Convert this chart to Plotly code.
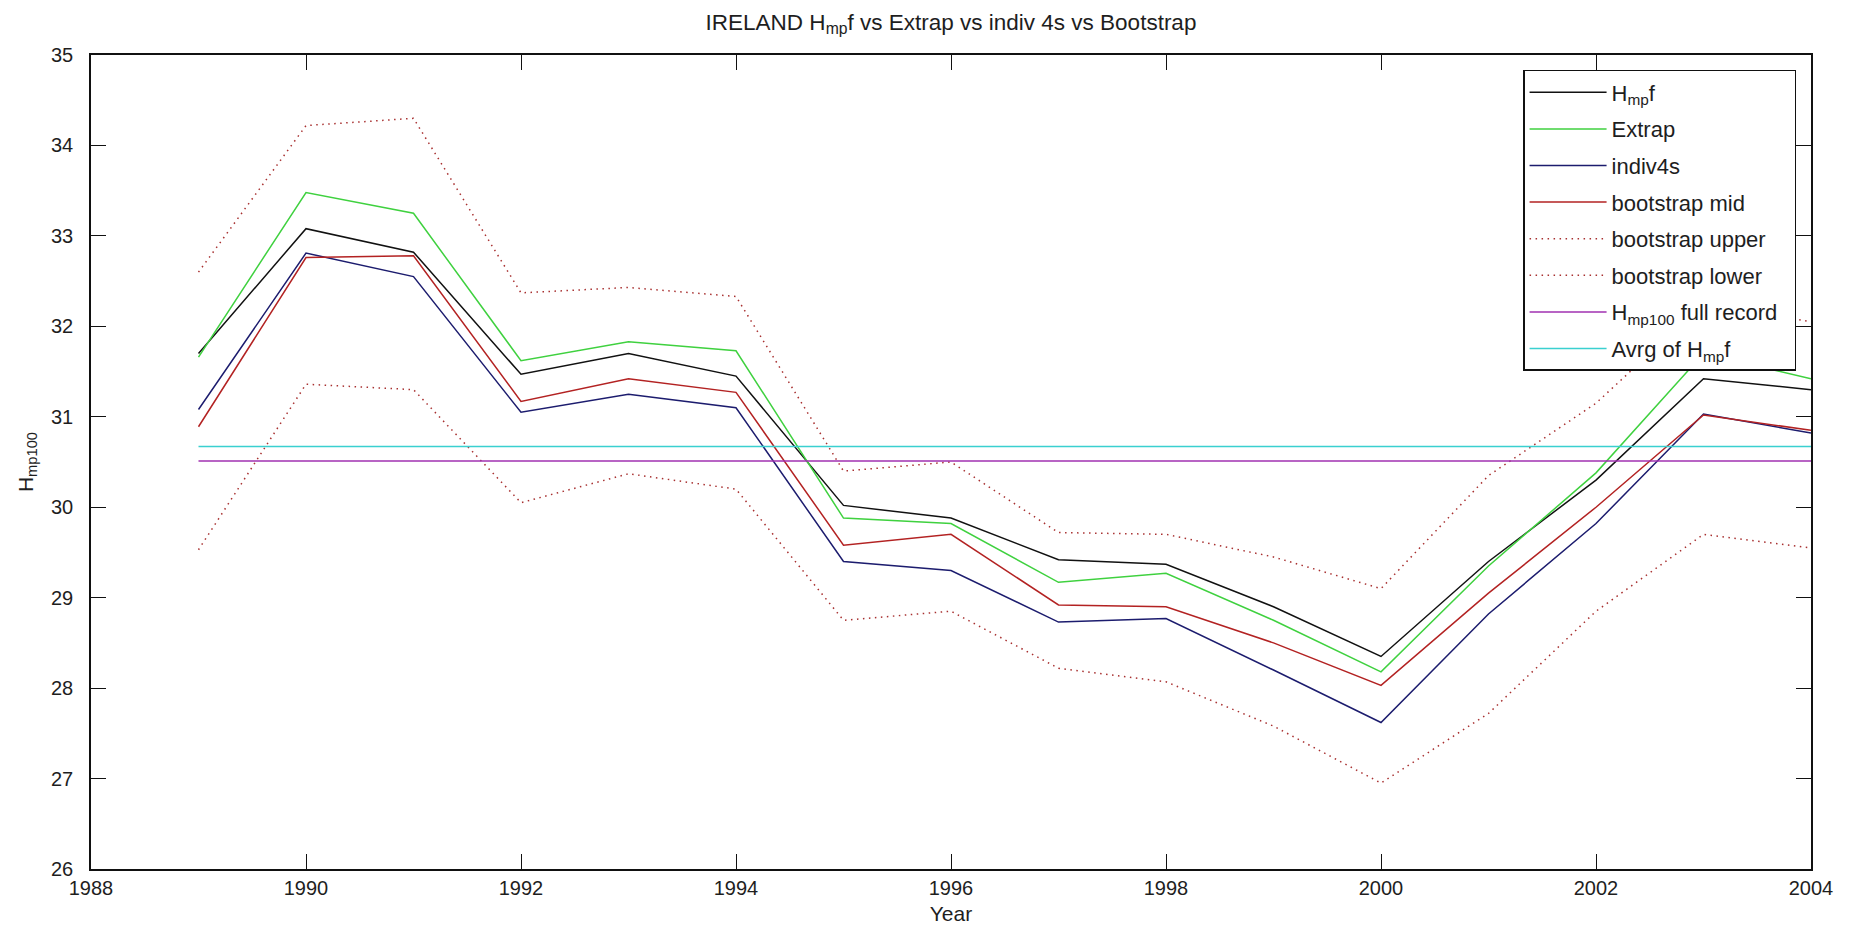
import plotly.graph_objects as go

years = [1989, 1990, 1991, 1992, 1993, 1994, 1995, 1996, 1997, 1998, 1999, 2000, 2001, 2002, 2003, 2004]

hmpf = [31.70, 33.08, 32.82, 31.47, 31.70, 31.45, 30.02, 29.88, 29.42, 29.37, 28.90, 28.35, 29.40, 30.30, 31.42, 31.30]
extrap = [31.66, 33.48, 33.25, 31.62, 31.83, 31.73, 29.88, 29.82, 29.17, 29.27, 28.75, 28.18, 29.35, 30.38, 31.70, 31.42]
indiv4s = [31.08, 32.81, 32.55, 31.05, 31.25, 31.10, 29.40, 29.30, 28.73, 28.77, 28.20, 27.62, 28.82, 29.82, 31.03, 30.82]
boot_mid = [30.89, 32.76, 32.78, 31.17, 31.42, 31.27, 29.58, 29.70, 28.92, 28.90, 28.50, 28.03, 29.05, 30.00, 31.02, 30.85]
boot_upper = [32.60, 34.22, 34.30, 32.37, 32.43, 32.33, 30.40, 30.50, 29.72, 29.70, 29.45, 29.10, 30.35, 31.15, 32.25, 32.05]
boot_lower = [29.53, 31.36, 31.30, 30.05, 30.37, 30.20, 28.75, 28.85, 28.22, 28.07, 27.58, 26.95, 27.72, 28.85, 29.70, 29.55]
hmp100_full = 30.51
avg_hmpf = 30.67

series_names = ["H<sub>mp</sub>f", "Extrap", "indiv4s", "bootstrap mid", "bootstrap upper",
                "bootstrap lower", "H<sub>mp100</sub> full record&nbsp;&nbsp;", "Avrg of H<sub>mp</sub>f"]

x_ticks = [1988, 1990, 1992, 1994, 1996, 1998, 2000, 2002, 2004]
y_ticks = [26, 27, 28, 29, 30, 31, 32, 33, 34, 35]

FONT = "Liberation Sans, Arial, sans-serif"
TXT = "#1e1e1e"

specs = [
    (hmpf, "#111111", "solid", 1.5),
    (extrap, "#3fd13f", "solid", 1.5),
    (indiv4s, "#1c1c6e", "solid", 1.5),
    (boot_mid, "#b32222", "solid", 1.5),
    (boot_upper, "#a83030", "1.5px,4.5px", 1.5),
    (boot_lower, "#a83030", "1.5px,4.5px", 1.5),
    ([hmp100_full] * len(years), "#a030b0", "solid", 1.5),
    ([avg_hmpf] * len(years), "#3ad0d0", "solid", 1.5),
]

fig = go.Figure()
for i, (vals, color, dash, w) in enumerate(specs):
    fig.add_trace(go.Scatter(
        x=years, y=vals, mode="lines", name=series_names[i],
        legendgroup=f"g{i}",
        line=dict(color=color, dash=dash, width=w),
    ))

# page body has an 8px default margin; size the figure so the plot area
# lands at x 91..1811, y 55..869 of the window
fig.update_layout(
    width=1833, height=917,
    paper_bgcolor="white", plot_bgcolor="white",
    margin=dict(l=83, r=30, t=47, b=56, autoexpand=False),
    font=dict(family=FONT, size=20, color=TXT),
    title=dict(text="IRELAND H<sub>mp</sub>f vs Extrap vs indiv 4s vs Bootstrap",
               x=0.5, xref="paper", xanchor="center", y=0.985, yanchor="middle",
               font=dict(family=FONT, size=22.5, color=TXT)),
    showlegend=True,
    legend=dict(
        x=0.8326, y=0.9816, xanchor="left", yanchor="top",
        bgcolor="white", bordercolor="#111111", borderwidth=1.5,
        font=dict(family=FONT, size=22, color=TXT),
        tracegroupgap=5, itemwidth=77,
    ),
    xaxis=dict(
        range=[1988, 2004], tickvals=x_ticks, ticktext=[str(v) for v in x_ticks],
        automargin=False,
        showgrid=False, zeroline=False, showline=True, linecolor="#111111", linewidth=1.5,
        mirror="ticks", ticks="inside", ticklen=15, tickcolor="#111111", tickwidth=1.2,
        ticklabelstandoff=0,
        tickfont=dict(family=FONT, size=20, color=TXT),
        title=dict(text="Year", font=dict(family=FONT, size=21, color=TXT), standoff=13),
    ),
    yaxis=dict(
        range=[26, 35], tickvals=y_ticks, ticktext=[str(v) for v in y_ticks],
        automargin=False,
        showgrid=False, zeroline=False, showline=True, linecolor="#111111", linewidth=1.5,
        mirror="ticks", ticks="inside", ticklen=15, tickcolor="#111111", tickwidth=1.2,
        ticklabelstandoff=12,
        tickfont=dict(family=FONT, size=20, color=TXT),
        title=dict(text="H<sub>mp100</sub>", font=dict(family=FONT, size=21, color=TXT), standoff=12),
    ),
)

fig.write_html("out.html")
